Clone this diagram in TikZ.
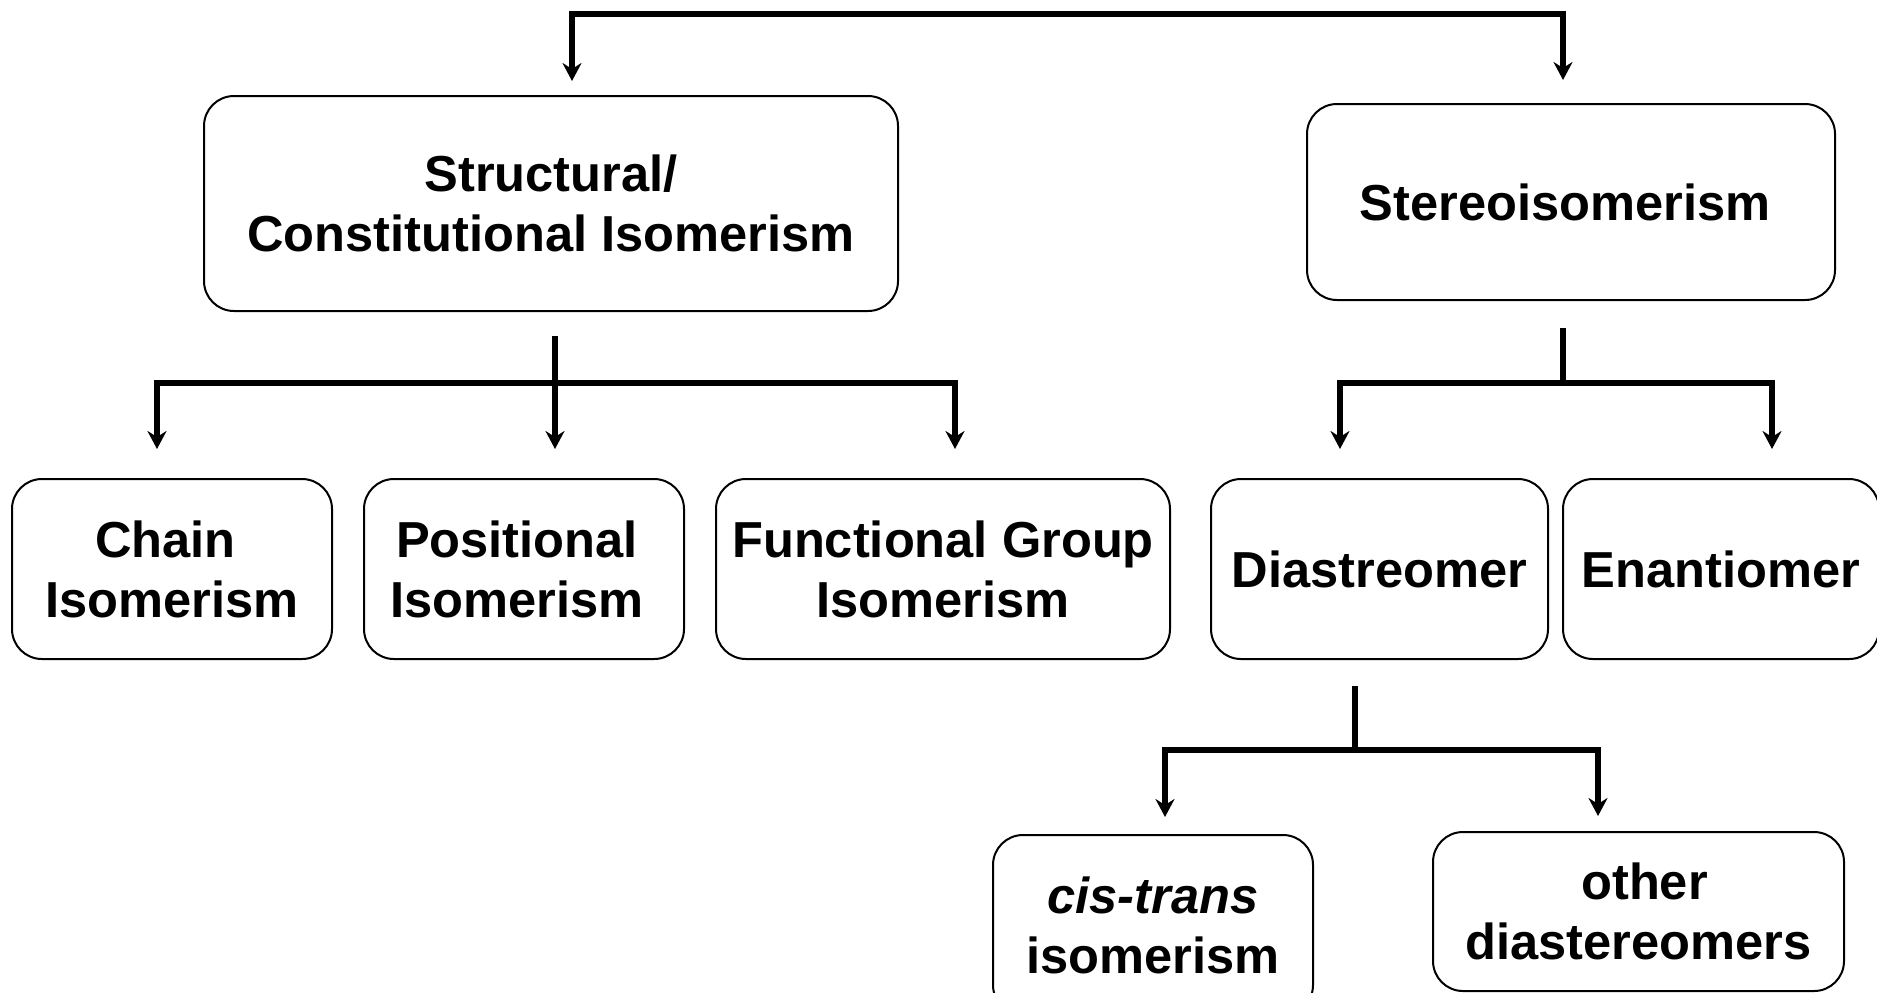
\documentclass[tikz,border=0pt]{standalone}
\usepackage{fontspec}
\setmainfont{Liberation Sans}
\usetikzlibrary{arrows.meta, positioning}

\begin{document}
\begin{tikzpicture}[
    x=0.5pt, y=-0.5pt,
    every node/.style={font=\fontsize{25.3}{30}\selectfont\bfseries},
    box/.style={draw=black, line width=1pt, rectangle, rounded corners=15pt, inner sep=0pt, minimum width=160pt, minimum height=90pt, align=center},
    link/.style={line width=2.75pt},
    arrow/.style={line width=2.75pt, -{Stealth[length=9pt, width=9.5pt, inset=3pt]}}
]
\useasboundingbox (0,0) rectangle (1877,992);

\node (struct) [box, minimum width=347pt, minimum height=107.5pt] at (551,203.5) {Structural/\\Constitutional Isomerism};
\node (stereo) [box, minimum width=264pt, minimum height=98pt] at (1571,202) {Stereoisomerism\kern6pt};
\node (chain) [box] at (172,569) {Chain\kern6.6pt\\Isomerism};
\node (posit) [box] at (524,569) {Positional\kern7pt\\Isomerism\kern7pt};
\node (func) [box, minimum width=227pt] at (943,569) {Functional Group\\Isomerism};
\node (diast) [box, minimum width=168.5pt] at (1379.5,569) {Diastreomer};
\node (enant) [box, minimum width=158pt] at (1721,569) {Enantiomer};
\node (cistrans) [box] at (1153,925) {\textit{cis-trans}\\isomerism};
\node (otherdia) [box, minimum width=205.5pt, minimum height=79.5pt] at (1638.5,911.5) {\kern6pt other\\diastereomers};

% top
\coordinate (root) at (1067,14);
\draw [arrow] (root) -| ([xshift=10.5pt, yshift=7pt]struct.north);
\draw [arrow] (root) -| ([xshift=-4pt, yshift=11.5pt]stereo.north);

% structural branch
\coordinate (sj) at (555,383);
\draw [link] ([xshift=2pt, yshift=-12pt]struct.south) -- (sj);
\draw [arrow] (sj) -| ([xshift=-7.5pt, yshift=14.5pt]chain.north);
\draw [arrow] (sj) -- ([xshift=15.5pt, yshift=14.5pt]posit.north);
\draw [arrow] (sj) -| ([xshift=6pt, yshift=14.5pt]func.north);

% stereo branch
\coordinate (tj) at (1563,383);
\draw [link] ([xshift=-4pt, yshift=-13.5pt]stereo.south) -- (tj);
\draw [arrow] (tj) -| ([xshift=-19.75pt, yshift=14.5pt]diast.north);
\draw [arrow] (tj) -| ([xshift=25.5pt, yshift=14.5pt]enant.north);

% diastereomer branch
\coordinate (dj) at (1355,750);
\draw [link] ([xshift=-12.25pt, yshift=-13pt]diast.south) -- (dj);
\draw [arrow] (dj) -| ([xshift=6pt, yshift=8.5pt]cistrans.north);
\draw [arrow] (dj) -| ([xshift=-20.25pt, yshift=7.5pt]otherdia.north);

\end{tikzpicture}
\end{document}
